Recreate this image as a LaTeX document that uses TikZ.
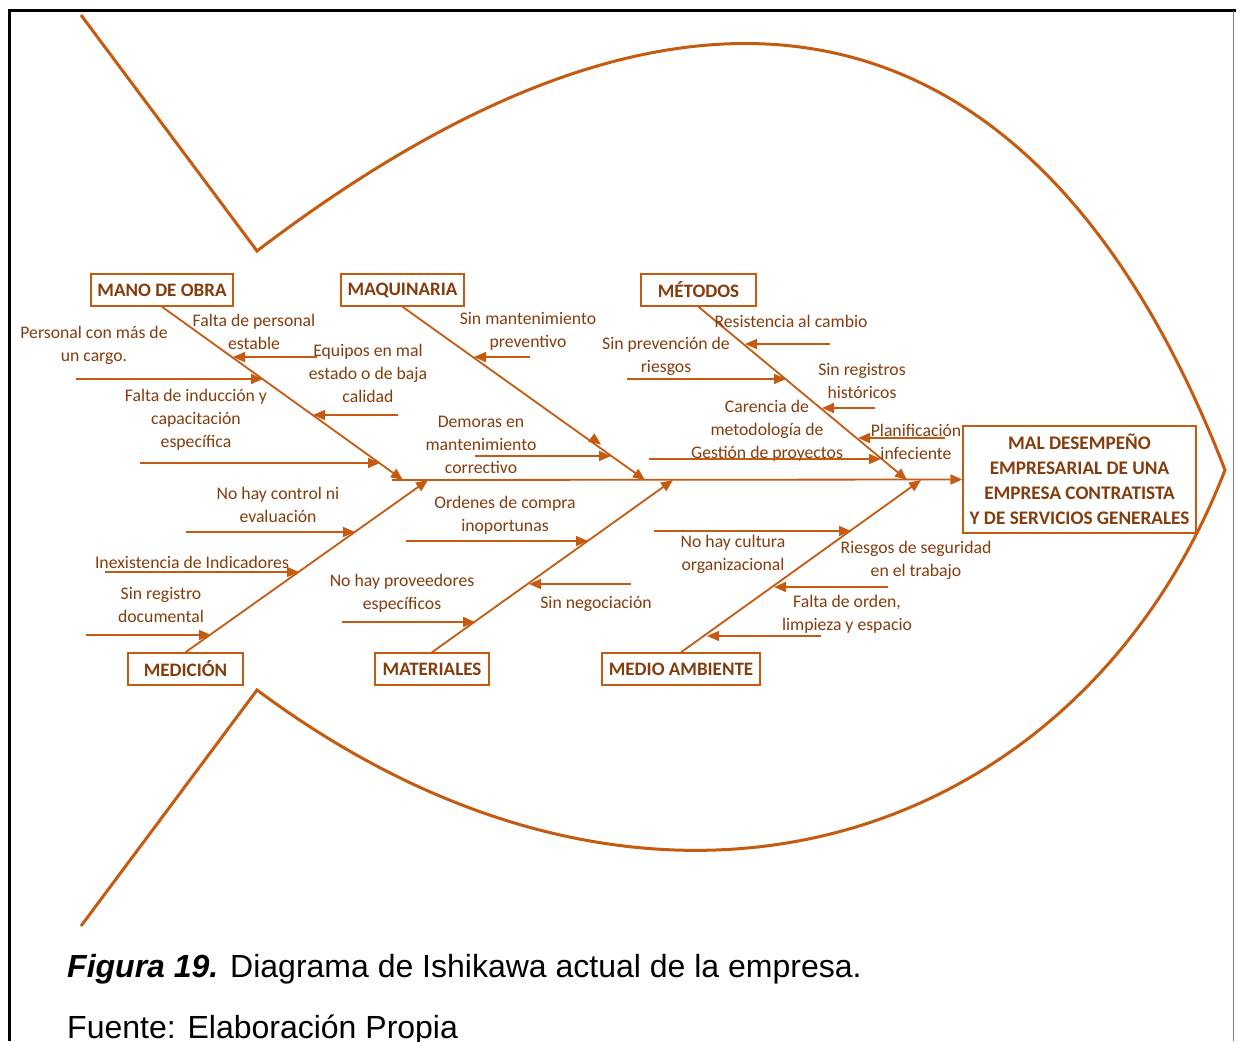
\documentclass[tikz,border=0pt]{standalone}
\usepackage{fontspec}
\setmainfont{Carlito}
\newfontfamily\capfont{Liberation Sans}
\usetikzlibrary{arrows.meta,calc}
\definecolor{fishline}{HTML}{C55A11}
\definecolor{fishtext}{HTML}{843C0C}
\definecolor{framegray}{HTML}{7F7F7F}

\begin{document}
\begin{tikzpicture}[x=1pt,y=-1pt,
  tip/.tip={Triangle[length=12pt,width=10pt]},
  bone/.style={draw=fishline, line width=1.8pt, -tip},
  cause/.style={draw=fishline, line width=1.6pt, -tip},
  outline/.style={draw=fishline, line width=3pt, line join=miter},
  catbox/.style={draw=fishline, line width=1.5pt, text=fishtext,
    font=\bfseries\fontsize{19}{22}\selectfont, minimum height=32pt, inner sep=0pt},
  effectbox/.style={draw=fishline, line width=1.5pt, text=fishtext, align=center,
    font=\bfseries\fontsize{19.2}{25}\selectfont, minimum width=233pt,
    minimum height=107pt, inner sep=0pt},
  lbl/.style={text=fishtext, align=center, inner sep=0pt,
    font=\fontsize{17.7}{23}\selectfont},
  caption/.style={anchor=base west, inner sep=0pt, font=\capfont\fontsize{32}{36}\selectfont}]

\useasboundingbox (0,0) rectangle (1236,1041);

% page frame
\draw[line width=3pt] (8,11) -- (1236,11);
\draw[line width=3pt] (9.5,11) -- (9.5,1041);
\draw[framegray, line width=1pt] (1233.5,11) -- (1233.5,1041);

% fish body and tail
\draw[outline] (81,15) -- (257,251)
  .. controls (730,-110) and (1052,23.6) .. (1225,470)
  .. controls (1081,842) and (660,990) .. (257,690) -- (81,926);

% effect
\node[effectbox] (effect) at (1079.5,479.5)
  {MAL DESEMPEÑO\\EMPRESARIAL DE UNA\\EMPRESA CONTRATISTA\\Y DE SERVICIOS GENERALES};

% categories
\node[catbox, minimum width=142pt] (mano) at (162,290) {MANO DE OBRA};
\node[catbox, minimum width=123pt] (maq)  at (402.5,290) {MAQUINARIA};
\node[catbox, minimum width=115pt] (met)  at (698.5,290) {MÉTODOS};
\node[catbox, minimum width=115pt] (med)  at (185.5,669) {MEDICIÓN};
\node[catbox, minimum width=114pt] (mat)  at (432,669) {MATERIALES};
\node[catbox, minimum width=158pt] (amb)  at (681,669) {MEDIO AMBIENTE};

% spine
\coordinate (spine) at (392,480);
\draw[bone] (spine) -- (effect.west);

% main bones
\coordinate (manoT) at (403,480);
\coordinate (maqT)  at (645,480);
\coordinate (metT)  at (907,480);
\coordinate (medT)  at (428,480);
\coordinate (matT)  at (673,480);
\coordinate (ambT)  at (921,480);
\draw[bone] (mano.south) -- (manoT);
\draw[bone] (maq.south)  -- (maqT);
\draw[bone] (met.south)  -- (metT);
\draw[bone] (med.north)  -- (medT);
\draw[bone] (mat.north)  -- (matT);
\draw[bone] (amb.north)  -- (ambT);

% --- MANO DE OBRA causes
\node[lbl] (m1) at (254,331.5) {Falta de personal\\estable};
\coordinate (m1a) at (317,357); \coordinate (m1b) at (233,357);
\draw[cause] (m1a) -- (m1b);
\node[lbl] (m2) at (94,345.5) {Personal con más de\\un cargo.};
\coordinate (m2a) at (76,379); \coordinate (m2b) at (263,379);
\draw[cause] (m2a) -- (m2b);
\node[lbl] (m3) at (368,373) {Equipos en mal\\estado o de baja\\calidad};
\coordinate (m3a) at (398,415); \coordinate (m3b) at (313,415);
\draw[cause] (m3a) -- (m3b);
\node[lbl] (m4) at (196,420) {Falta de inducción y\\capacitación\\específica};
\coordinate (m4a) at (140,463); \coordinate (m4b) at (380,463);
\draw[cause] (m4a) -- (m4b);

% --- MAQUINARIA causes
\node[lbl] (q1) at (528,331.5) {Sin mantenimiento\\preventivo};
\coordinate (q1a) at (530,357); \coordinate (q1b) at (474,357);
\draw[cause] (q1a) -- (q1b);
\node[lbl] (q2) at (481,445) {Demoras en\\mantenimiento\\correctivo};
\coordinate (q2a) at (475,456); \coordinate (q2b) at (611,456);
\draw[cause] (q2a) -- (q2b);
\coordinate (q3a) at (594.5,439.8); \coordinate (q3b) at (601,444.5);
\draw[cause] (q3a) -- (q3b);

% --- MÉTODOS causes
\node[lbl] (t1) at (791,321) {Resistencia al cambio};
\coordinate (t1a) at (830,344); \coordinate (t1b) at (745,344);
\draw[cause] (t1a) -- (t1b);
\node[lbl] (t2) at (666,356.5) {Sin prevención de\\riesgos};
\coordinate (t2a) at (627,379); \coordinate (t2b) at (786,379);
\draw[cause] (t2a) -- (t2b);
\node[lbl] (t3) at (862,381) {Sin registros\\históricos};
\coordinate (t3a) at (875,408); \coordinate (t3b) at (822,408);
\draw[cause] (t3a) -- (t3b);
\node[lbl] (t4) at (916,441.5) {Planificación\\infeciente};
\coordinate (t4a) at (945,438); \coordinate (t4b) at (858,438);
\draw[cause] (t4a) -- (t4b);
\node[lbl] (t5) at (767,431) {Carencia de\\metodología de\\Gestión de proyectos};
\coordinate (t5a) at (649,459); \coordinate (t5b) at (881,459);
\draw[cause] (t5a) -- (t5b);

% --- MEDICIÓN causes
\node[lbl] (d1) at (278,504.5) {No hay control ni\\evaluación};
\coordinate (d1a) at (186,532); \coordinate (d1b) at (355,532);
\draw[cause] (d1a) -- (d1b);
\node[lbl] (d2) at (192,562) {Inexistencia de Indicadores};
\coordinate (d2a) at (105,572); \coordinate (d2b) at (299,572);
\draw[cause] (d2a) -- (d2b);
\node[lbl] (d3) at (161,604.5) {Sin registro\\documental};
\coordinate (d3a) at (86,635); \coordinate (d3b) at (211,635);
\draw[cause] (d3a) -- (d3b);

% --- MATERIALES causes
\node[lbl] (r1) at (505,515.5) {Ordenes de compra\\inoportunas};
\coordinate (r1a) at (406,541); \coordinate (r1b) at (588,541);
\draw[cause] (r1a) -- (r1b);
\node[lbl] (r2) at (596,604) {Sin negociación};
\coordinate (r2a) at (631,584); \coordinate (r2b) at (529,584);
\draw[cause] (r2a) -- (r2b);
\node[lbl] (r3) at (402,593.5) {No hay proveedores\\específicos};
\coordinate (r3a) at (342,622); \coordinate (r3b) at (475,622);
\draw[cause] (r3a) -- (r3b);

% --- MEDIO AMBIENTE causes
\node[lbl] (a1) at (733,554.5) {No hay cultura\\organizacional};
\coordinate (a1a) at (654,531); \coordinate (a1b) at (851,531);
\draw[cause] (a1a) -- (a1b);
\node[lbl] (a2) at (916,560.5) {Riesgos de seguridad\\en el trabajo};
\coordinate (a2a) at (888,587); \coordinate (a2b) at (774,587);
\draw[cause] (a2a) -- (a2b);
\node[lbl] (a3) at (847,614.5) {Falta de orden,\\limpieza y espacio};
\coordinate (a3a) at (821,636); \coordinate (a3b) at (707,636);
\draw[cause] (a3a) -- (a3b);

% caption
\node[caption] (cap) at (67,977)
  {\textbf{\textit{Figura 19.}} Diagrama de Ishikawa actual de la empresa.};
\node[caption] (src) at (67,1038) {Fuente: Elaboración Propia};
\end{tikzpicture}
\end{document}
